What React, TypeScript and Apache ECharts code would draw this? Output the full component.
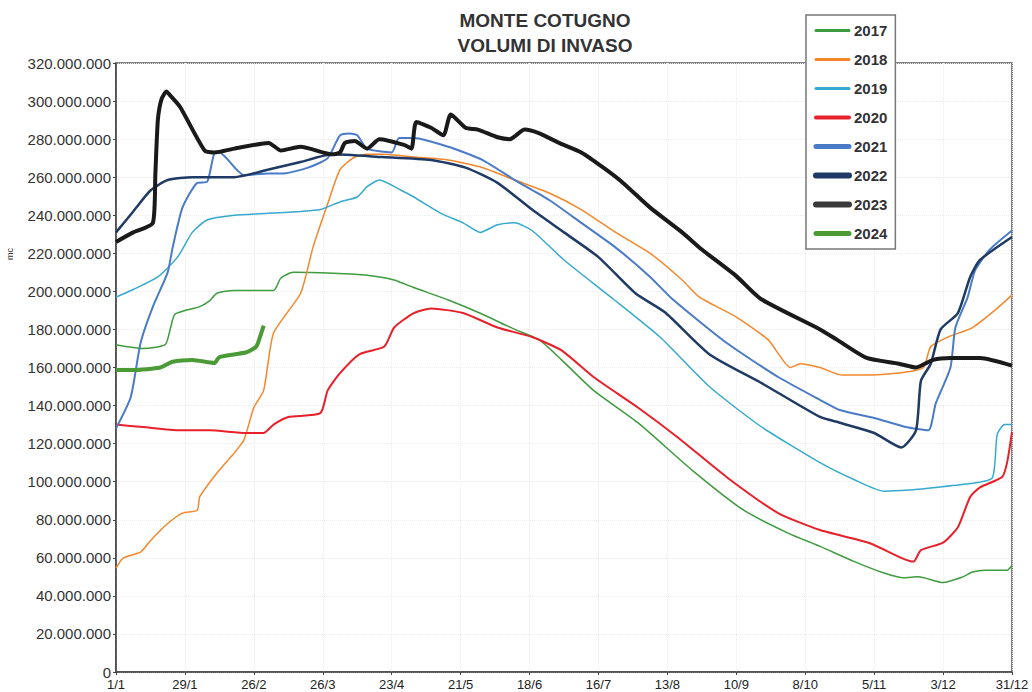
import React, { useEffect, useRef } from "react";
import * as echarts from "echarts";

// Day-of-year (0 = 1/1) and volume in millions of m³
const xTickLabels = ["1/1", "29/1", "26/2", "26/3", "23/4", "21/5", "18/6", "16/7", "13/8", "10/9", "8/10", "5/11", "3/12", "31/12"];
const years = ["2017", "2018", "2019", "2020", "2021", "2022", "2023", "2024"];

const v2017 = [[0,172],[11,170],[20,172],[22,180],[24,188],[34,192],[38,195],[41,199],[48,200.5],[64,200.5],[67,207],[72,210],[88,209.5],[102,208.5],[113,206],[121,202],[135,195.5],[148,188.5],[162,180],[172,174.5],[181,164],[194,148],[212,131],[235,105],[255,85],[273,73],[286,66],[300,58],[312,52],[320,49.5],[326,50],[336,47],[344,50],[348,52.5],[353,53.5],[362,53.5],[364,56]];
const v2018 = [[0,54.6],[3,60],[10,63],[14,69],[21,78],[27,83.5],[33,85],[34,92],[41,104.6],[48,115],[52,122],[56,139],[60,148],[64,178],[75,199],[80,223],[86,246],[91,264],[97,270.6],[102,272],[108,272],[121,270.6],[135,269],[149,265],[162,258.5],[176,251.7],[189,243],[203,231],[217,220],[230,206],[237,197],[252,186.5],[265,174.5],[274,160],[278,162],[286,160],[295,156],[306,156],[321,157.6],[328,160],[331,171],[338,176],[348,181],[357,190],[364,198]];
const v2019 = [[0,197],[7,201],[17,207.6],[25,218],[31,231],[37,237.5],[48,240],[62,241],[75,242],[83,243],[91,247],[98,249.6],[102,255],[107,258.5],[116,253],[121,249.6],[132,241],[141,236],[148,231],[155,235],[162,236],[169,232],[182,216.5],[202,196],[221,176],[241,150],[262,129],[286,110],[300,101],[312,95],[322,95.6],[333,97],[347,99],[356,102],[358,125],[361,130],[364,130]];
const v2020 = [[0,130],[11,128.7],[26,127],[38,127],[53,125.6],[60,125.6],[64,130],[70,134],[83,136],[86,148],[91,157],[99,167],[109,171],[113,181],[121,188.6],[128,191],[141,188.6],[155,181],[169,176],[181,169],[194,155],[212,139],[228,123.5],[248,102.5],[269,83.5],[286,74.6],[306,67.8],[319,60],[324,58],[327,64],[336,68],[342,76],[347,92],[351,97],[360,102.5],[362,110],[364,126]];
const v2021 = [[0,128],[6,144.5],[10,173],[15,192],[21,210],[23,223],[27,244],[33,257],[37,257.5],[40,272.7],[42,273],[49,264],[52,261],[62,262],[68,262],[78,265],[86,270],[91,282],[95,283],[98,282],[102,275],[112,273],[115,280.6],[121,280.6],[135,276],[149,269],[162,258.5],[176,248],[189,236],[203,223],[217,207.6],[226,196],[248,173],[269,155],[286,143],[294,137.7],[308,133.5],[321,128.7],[330,127],[333,141],[339,160],[341,181],[346,197],[349,211],[355,222],[364,232]];
const v2022 = [[0,231],[7,242],[14,253],[21,258.5],[31,260],[48,260],[62,264],[75,268],[88,272],[108,270.6],[128,269],[142,265],[155,257],[169,243],[182,231],[196,218],[211,199],[223,189],[241,167],[262,152],[286,134],[294,131],[308,125.6],[319,118],[325,127],[327,153],[331,162],[335,180],[342,188.6],[347,207.6],[351,216.5],[364,228.6]];
const v2023 = [[0,226],[7,231],[15,236],[16,262],[17,290],[18.5,301],[20.5,305],[22,303],[26,297],[36,274],[40,273],[48,275],[62,278],[67,274],[75,276],[88,272],[91,273],[93,278],[97,279],[102,275],[107,280],[117,277],[120,275],[122,289],[128,286],[133,282],[136,293],[142,286],[147,285],[155,281],[160,280],[166,285],[172,283],[180,278],[189,273],[198,265],[206,257],[217,244],[230,231],[238,222],[252,208],[262,196],[286,180],[293,174.5],[305,165],[318,162],[325,160],[332,164],[339,165],[351,165],[364,161]];
const v2024 = [[0,158.7],[7,158.7],[18,160],[23,163],[31,164],[40,162.4],[42,165.5],[53,168],[57,171],[59,178],[60,182]];

const seriesValues = [v2017, v2018, v2019, v2020, v2021, v2022, v2023, v2024];
const colors = ["#3f9b3f", "#f5872a", "#35a9cf", "#e8202a", "#4a7bc8", "#1f3a64", "#1a1a1a", "#4a9a36"];
const widths = [1.5, 1.5, 1.5, 2, 2, 2.5, 4, 4];
const legendWidths = [3, 3, 3, 4, 5, 6, 6, 5];
const legendColors = ["#3f9b3f", "#f5872a", "#35a9cf", "#e8202a", "#4a7bc8", "#1f3a64", "#3a3a3a", "#4a9a36"];

const fmt = (v: number) => {
  const s = Math.round(v).toString();
  return s.replace(/\B(?=(\d{3})+(?!\d))/g, ".");
};

export default function App() {
  const ref = useRef<HTMLDivElement>(null);
  useEffect(() => {
    if (!ref.current) return;
    const chart = echarts.init(ref.current, undefined, { renderer: "svg" });
    const font = "'Liberation Sans', Arial, sans-serif";
    chart.setOption({
      animation: false,
      backgroundColor: "#ffffff",
      textStyle: { fontFamily: font },
      title: {
        text: "MONTE COTUGNO\nVOLUMI DI INVASO",
        left: 540,
        top: 3,
        textAlign: "center",
        textStyle: { fontSize: 19, fontWeight: "bold", color: "#333", lineHeight: 25, fontFamily: font },
      },
      legend: {
        orient: "vertical",
        left: 806,
        top: 15,
        padding: [8, 8, 8, 7],
        itemGap: 14,
        itemWidth: 33,
        itemHeight: 14,
        borderColor: "#777",
        borderWidth: 1.5,
        backgroundColor: "#fff",
        itemStyle: { opacity: 0 },
        data: years.map((y, i) => ({
          name: y,
          lineStyle: { width: legendWidths[i], color: legendColors[i], cap: "round" },
        })),
        textStyle: { fontSize: 15, fontWeight: "bold", color: "#333", fontFamily: font },
      },
      grid: {
        left: 116,
        right: 20,
        top: 63,
        bottom: 20,
        show: true,
        borderColor: "#555",
        borderWidth: 1.5,
      },
      xAxis: {
        type: "value",
        min: 0,
        max: 364,
        interval: 28,
        axisLine: { show: true, lineStyle: { color: "#444", width: 1.5 } },
        axisTick: { show: true, length: 3, lineStyle: { color: "#444" } },
        splitLine: { show: true, lineStyle: { color: "#ececec", type: "dotted" } },
        axisLabel: {
          fontSize: 13,
          color: "#222",
          margin: 6,
          formatter: (v: number) => xTickLabels[Math.round(v / 28)] ?? "",
        },
      },
      yAxis: {
        type: "value",
        min: 0,
        max: 320000000,
        interval: 20000000,
        axisLine: { show: true, lineStyle: { color: "#444", width: 1.5 } },
        axisTick: { show: true, length: 3, lineStyle: { color: "#444" } },
        splitLine: { show: true, lineStyle: { color: "#ececec", type: "dotted" } },
        axisLabel: { fontSize: 15, color: "#333", margin: 5, formatter: (v: number) => fmt(v) },
      },
      graphic: [
        {
          type: "text",
          x: 10,
          y: 254,
          rotation: Math.PI / 2,
          style: { text: "mc", fontSize: 9, fill: "#333", fontFamily: font, align: "center", verticalAlign: "middle" },
        },
      ],
      series: years.map((y, i) => ({
        name: y,
        type: "line",
        showSymbol: false,
        symbol: "none",
        smooth: 0.2,
        data: seriesValues[i].map(([d, v]) => [d, v * 1e6]),
        lineStyle: { color: colors[i], width: widths[i] },
        itemStyle: { color: colors[i] },
        z: 2 + i,
      })),
    });
    return () => chart.dispose();
  }, []);
  return <div ref={ref} style={{ width: 1032, height: 692, position: "absolute", left: 0, top: 0 }} />;
}
